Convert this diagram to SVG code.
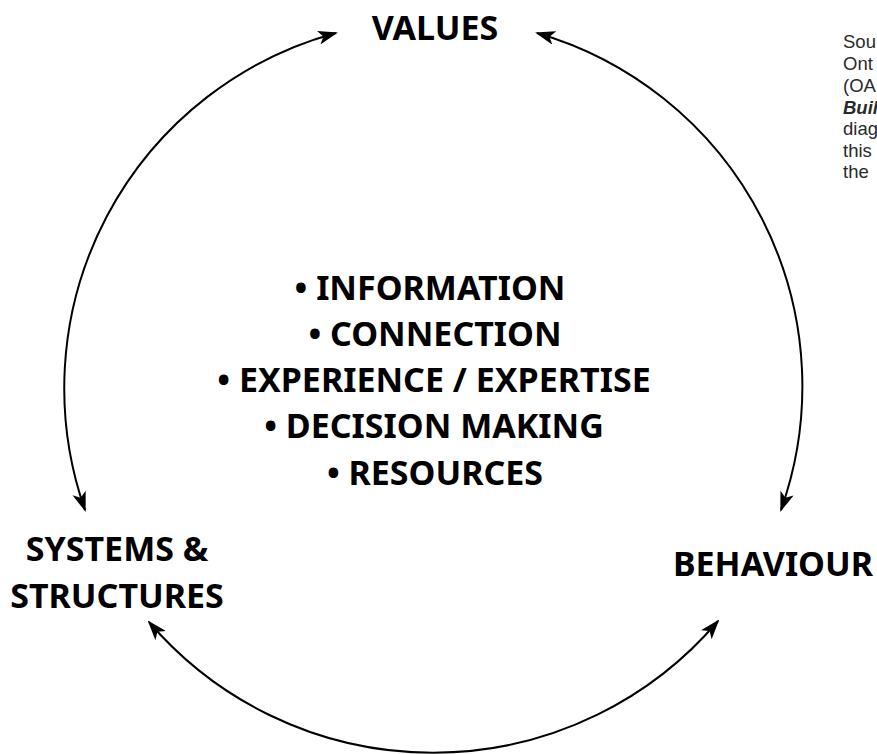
<svg xmlns="http://www.w3.org/2000/svg" width="877" height="754" viewBox="0 0 877 754">
<style>
.lbl{font-family:"Noto Sans","Open Sans","Liberation Sans",sans-serif;font-weight:700;font-size:34px;fill:#000;text-anchor:middle}
.src{font-family:"Liberation Sans",Arial,sans-serif;font-size:18.5px;fill:#2a2a2a}
.arc{fill:none;stroke:#000;stroke-width:2}
</style>
<defs>
<marker id="ah" markerUnits="userSpaceOnUse" markerWidth="20" markerHeight="14" refX="18" refY="7" orient="auto-start-reverse" viewBox="0 0 20 14">
<path d="M0,0 L20,7 L0,14 L5,7 Z" fill="#000"/>
</marker>
</defs>
<rect width="877" height="754" fill="#fff"/>
<g id="connectors">
<path class="arc" d="M336,33 A368,368 0 0 0 85,510" marker-start="url(#ah)" marker-end="url(#ah)"/>
<path class="arc" d="M537,33 A368,368 0 0 1 781,510" marker-start="url(#ah)" marker-end="url(#ah)"/>
<path class="arc" d="M149,622 A374,374 0 0 0 718,621" marker-start="url(#ah)" marker-end="url(#ah)"/>
</g>
<g id="values"><text class="lbl" x="435" y="40">VALUES</text></g>
<g id="systems"><text class="lbl" x="117" y="561">SYSTEMS &amp;</text><text class="lbl" x="117" y="608">STRUCTURES</text></g>
<g id="behaviour"><text class="lbl" x="773" y="576">BEHAVIOUR</text></g>
<g id="center">
<text class="lbl" x="430" y="300">• INFORMATION</text>
<text class="lbl" x="435" y="346">• CONNECTION</text>
<text class="lbl" x="434" y="392">• EXPERIENCE / EXPERTISE</text>
<text class="lbl" x="434" y="438">• DECISION MAKING</text>
<text class="lbl" x="435" y="485">• RESOURCES</text>
</g>
<g id="source">
<text class="src" x="843" y="48">Sou</text>
<text class="src" x="843" y="70">Ont</text>
<text class="src" x="843" y="92">(OA</text>
<text class="src" x="843" y="114" font-style="italic" font-weight="700">Buil</text>
<text class="src" x="843" y="135">diag</text>
<text class="src" x="843" y="157">this</text>
<text class="src" x="843" y="178">the</text>
</g>
</svg>
